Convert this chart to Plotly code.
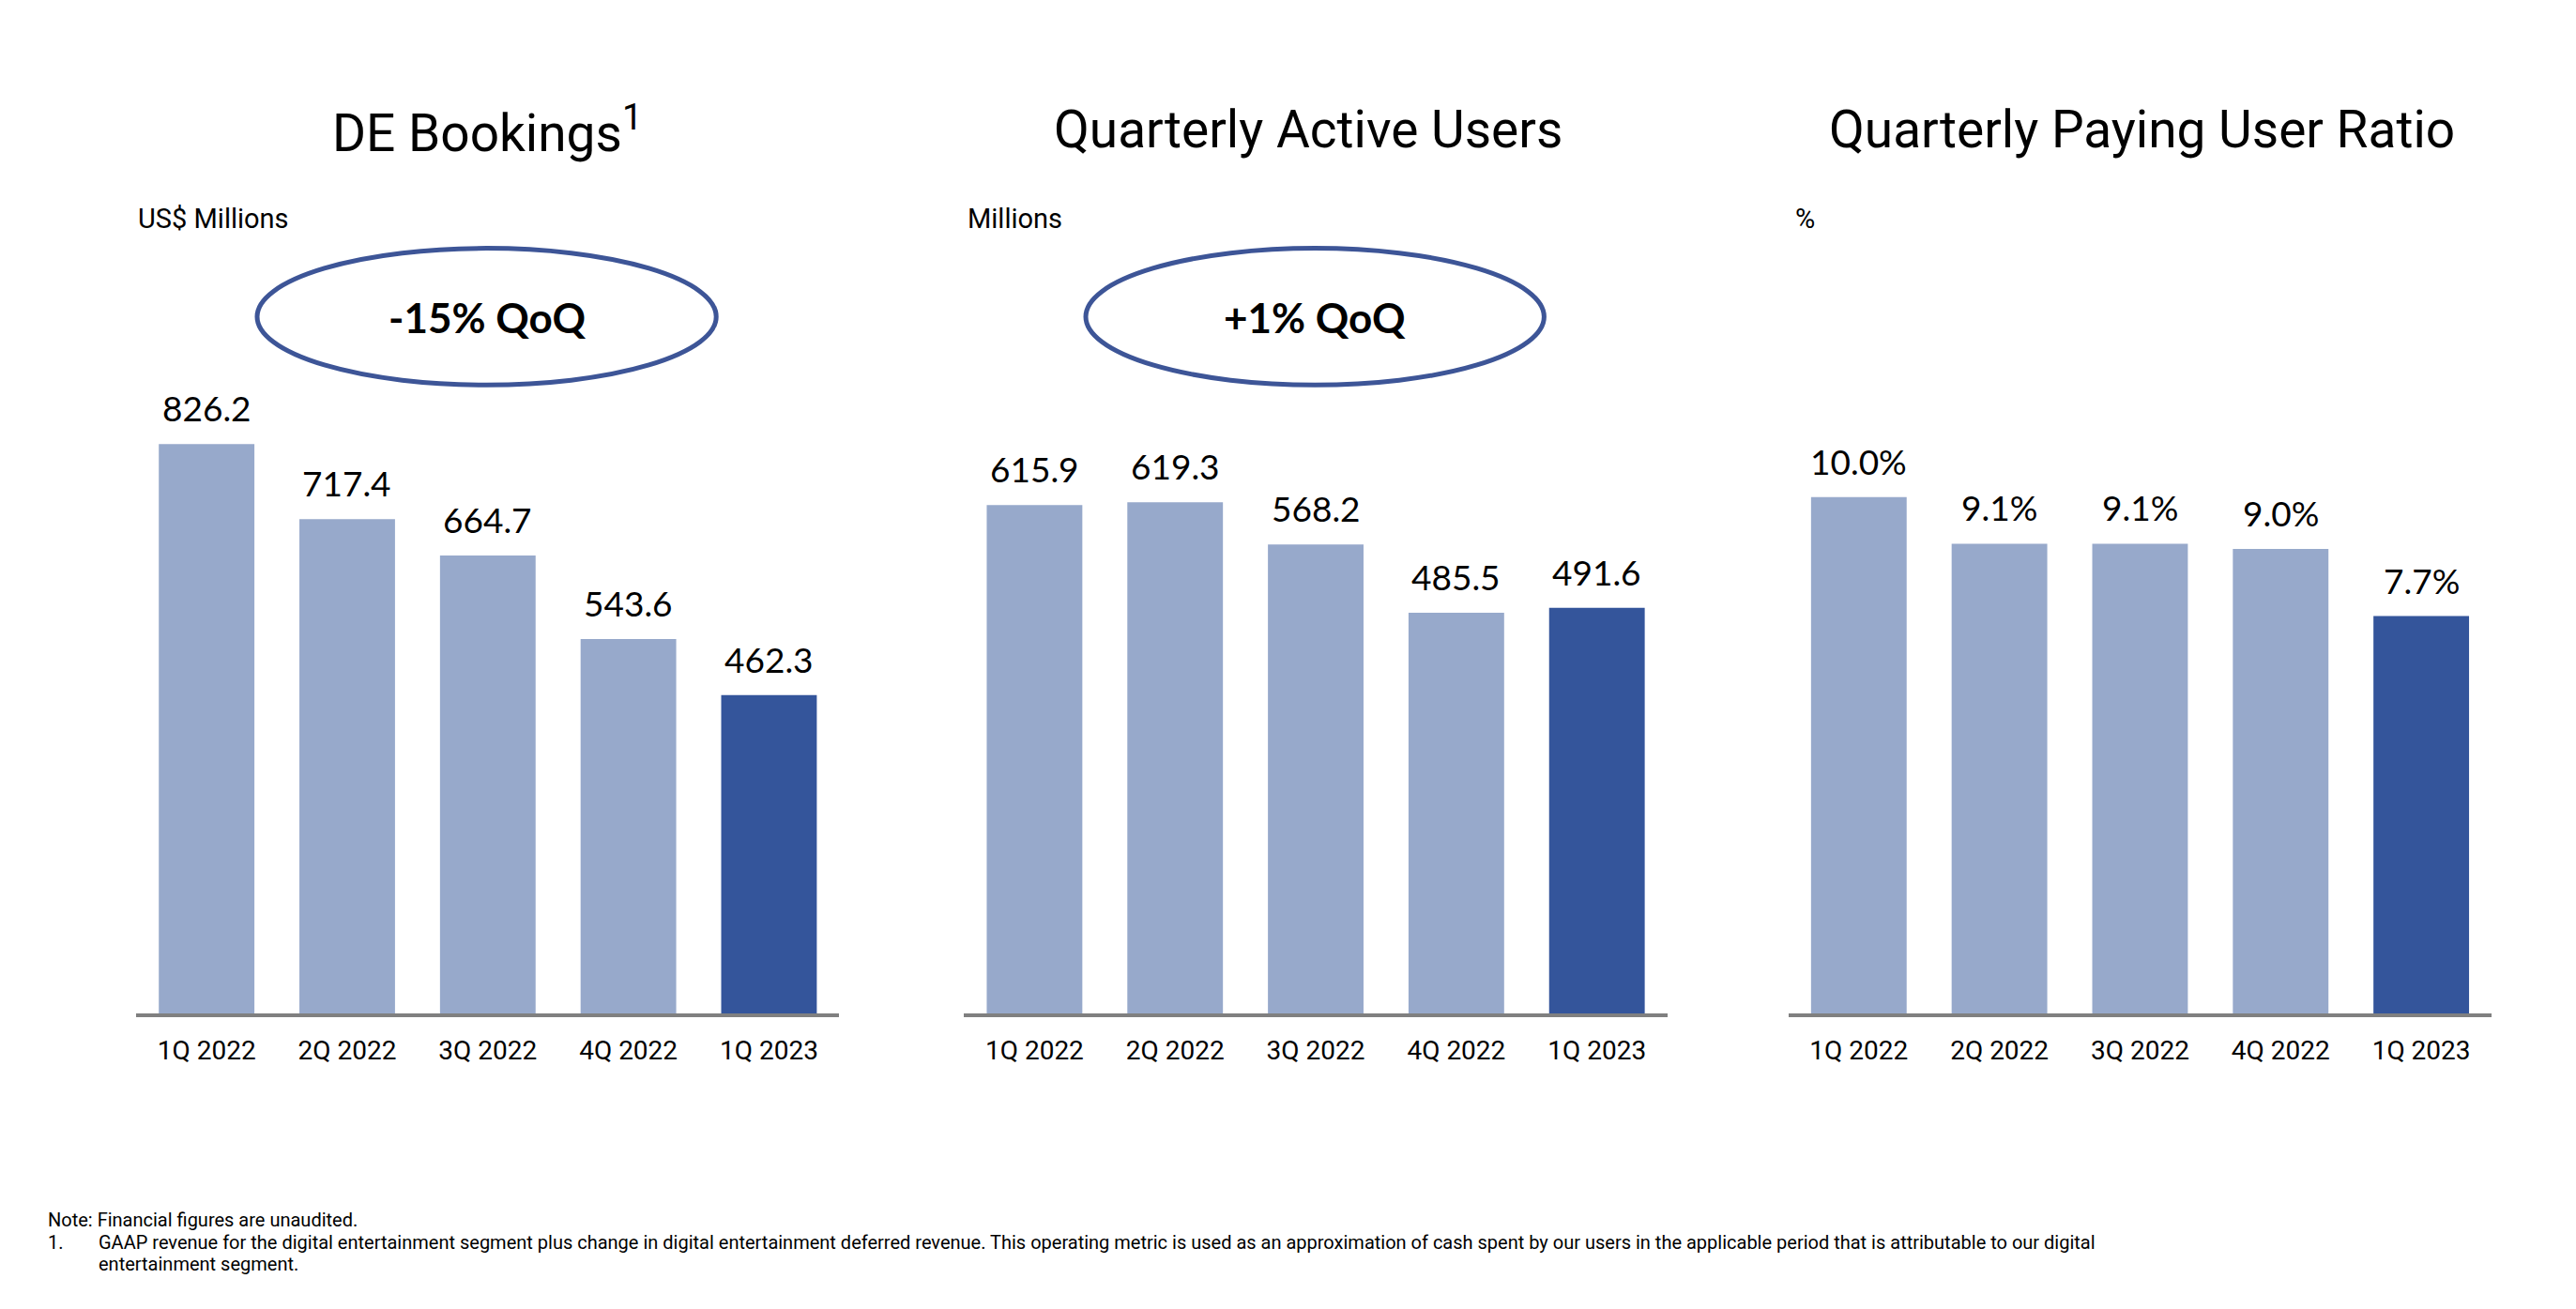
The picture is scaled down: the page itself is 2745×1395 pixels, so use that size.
import plotly.graph_objects as go

quarters = ["1Q 2022", "2Q 2022", "3Q 2022", "4Q 2022", "1Q 2023"]
bookings = [826.2, 717.4, 664.7, 543.6, 462.3]
active_users = [615.9, 619.3, 568.2, 485.5, 491.6]
paying_ratio = [10.0, 9.1, 9.1, 9.0, 7.7]

titles = ["DE Bookings<sup>1</sup>", "Quarterly Active Users", "Quarterly Paying User Ratio"]
units = ["US$ Millions", "Millions", "%"]
qoq_labels = ["-15% QoQ", "+1% QoQ"]
footnote_lines = [
    "Note: Financial figures are unaudited.",
    "GAAP revenue for the digital entertainment segment plus change in digital entertainment deferred revenue. This operating metric is used as an approximation of cash spent by our users in the applicable period that is attributable to our digital",
    "entertainment segment.",
]

W, H = 2745, 1395
LIGHT = "#97A9CB"
DARK = "#34559B"
ELLIPSE = "#3D5597"

series = [bookings, active_users, paying_ratio]
label_fmt = ["{:.1f}", "{:.1f}", "{:.1f}%"]
x_domains = [[0.0500, 0.3229], [0.3714, 0.6443], [0.6914, 0.9643]]
y_ranges = [[0, 1003], [0, 837.4], [0, 13.39]]
y_domain = [0.2312, 0.7597]

fig = go.Figure()
colors = [LIGHT] * (len(quarters) - 1) + [DARK]

for i, vals in enumerate(series):
    xa = "x" if i == 0 else f"x{i+1}"
    ya = "y" if i == 0 else f"y{i+1}"
    fig.add_trace(go.Bar(
        x=quarters, y=vals, marker=dict(color=colors, line=dict(width=0)),
        xaxis=xa, yaxis=ya, showlegend=False, hoverinfo="skip",
    ))
    for q, v in zip(quarters, vals):
        fig.add_annotation(
            x=q, y=v, xref=xa, yref=ya, text=label_fmt[i].format(v),
            showarrow=False, yanchor="bottom", yshift=14,
            font=dict(family="Lato", size=37, color="#000000"),
        )
    axis_key = "xaxis" if i == 0 else f"xaxis{i+1}"
    yaxis_key = "yaxis" if i == 0 else f"yaxis{i+1}"
    fig.update_layout(**{
        axis_key: dict(
            domain=x_domains[i], anchor=ya, range=[-0.5, 4.5],
            showline=True, linecolor="#808080", linewidth=4,
            showgrid=False, zeroline=False, ticks="",
            tickfont=dict(family="Roboto", size=28, color="#000000"),
            ticklabelstandoff=11, fixedrange=True,
        ),
        yaxis_key: dict(
            domain=y_domain, anchor=xa, range=y_ranges[i],
            visible=False, showgrid=False, zeroline=False, fixedrange=True,
        ),
    })

# Titles and unit labels
title_x = [511.6, 1386.0, 2274.0]
unit_x = [137.3, 1021.2, 1903.2]
for i in range(3):
    fig.add_annotation(
        x=title_x[i] / W, y=1 - 130.2 / H, xref="paper", yref="paper",
        text=titles[i], showarrow=False, xanchor="center", yanchor="middle",
        font=dict(family="Roboto", size=55, color="#000000"),
    )
    fig.add_annotation(
        x=unit_x[i] / W, y=1 - 225.1 / H, xref="paper", yref="paper",
        text=units[i], showarrow=False, xanchor="left", yanchor="middle",
        font=dict(family="Roboto", size=29, color="#000000"),
    )

# QoQ ellipses
ellipses = [(266.0, 755.2), (1149.0, 1637.4)]
for (x0, x1), txt in zip(ellipses, qoq_labels):
    fig.add_shape(
        type="circle", xref="paper", yref="paper",
        x0=x0 / W, x1=x1 / W, y0=1 - 402.3 / H, y1=1 - 256.6 / H,
        line=dict(color=ELLIPSE, width=5), fillcolor="rgba(0,0,0,0)",
    )
    fig.add_annotation(
        x=(x0 + x1) / 2 / W, y=1 - 330 / H, xref="paper", yref="paper",
        text=f"<b>{txt}</b>", showarrow=False, xanchor="center", yanchor="middle",
        font=dict(family="Lato", size=44, color="#000000"),
    )

# Footnotes
foot_font = dict(family="Roboto", size=20, color="#000000")
fig.add_annotation(
    x=41 / W, y=1 - 1291.8 / H, xref="paper", yref="paper", text=footnote_lines[0],
    showarrow=False, xanchor="left", yanchor="middle", font=foot_font,
)
fig.add_annotation(
    x=41 / W, y=1 - 1316.4 / H, xref="paper", yref="paper", text="1.",
    showarrow=False, xanchor="left", yanchor="middle", font=foot_font,
)
fig.add_annotation(
    x=95.3 / W, y=1 - 1316.4 / H, xref="paper", yref="paper", text=footnote_lines[1],
    showarrow=False, xanchor="left", yanchor="middle", font=foot_font,
)
fig.add_annotation(
    x=95.3 / W, y=1 - 1339.2 / H, xref="paper", yref="paper", text=footnote_lines[2],
    showarrow=False, xanchor="left", yanchor="middle", font=foot_font,
)

fig.update_layout(
    width=W, height=H, margin=dict(l=0, r=0, t=0, b=0),
    paper_bgcolor="#FFFFFF", plot_bgcolor="#FFFFFF",
    bargap=0.32, showlegend=False,
)

fig.write_html("out.html", config={"displayModeBar": False})
